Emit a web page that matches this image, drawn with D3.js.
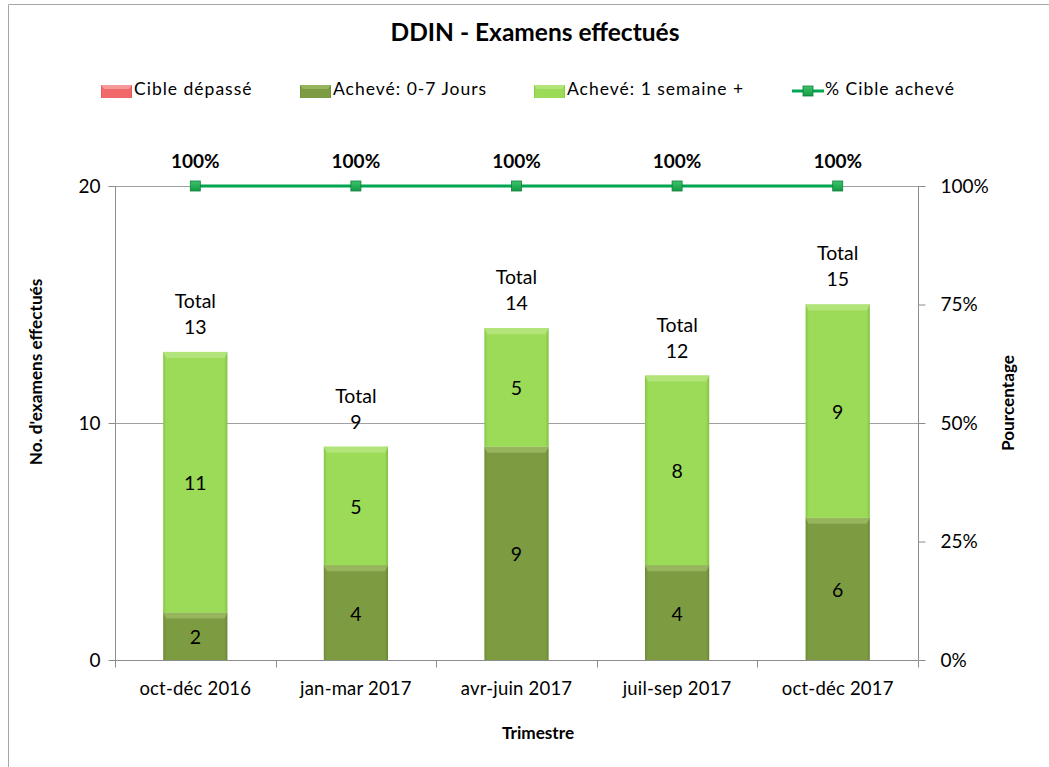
<!DOCTYPE html>
<html>
<head>
<meta charset="utf-8">
<script src="https://cdn.jsdelivr.net/npm/d3@7"></script>
<style>
  html, body { margin: 0; padding: 0; background: #fff; }
  svg { display: block; }
  text { font-family: Lato, "Noto Sans", sans-serif; fill: #000; }
</style>
</head>
<body>
<svg id="chart" width="1049" height="767"></svg>
<script>
// ---- data ----
const categories = ["oct-déc 2016", "jan-mar 2017", "avr-juin 2017", "juil-sep 2017", "oct-déc 2017"];
const cibleDepasse = [0, 0, 0, 0, 0];
const acheve07 = [2, 4, 9, 4, 6];
const acheve1sem = [11, 5, 5, 8, 9];
const pctCible = [1, 1, 1, 1, 1];
const leftTicks = [0, 10, 20];
const rightTicks = [0, 0.25, 0.5, 0.75, 1];
const legendLabels = ["Cible dépassé", "Achevé: 0-7 Jours", "Achevé: 1 semaine +", "% Cible achevé"];
const titleText = "DDIN - Examens effectués";

// ---- layout ----
const W = 1049, H = 767;
const plot = { left: 115, right: 918, top: 186, bottom: 660 };
const svg = d3.select("#chart");

const defs = svg.append("defs");
function hGrad(id, stops) {
  const g = defs.append("linearGradient").attr("id", id).attr("x1", 0).attr("x2", 1).attr("y1", 0).attr("y2", 0);
  stops.forEach(s => g.append("stop").attr("offset", s[0]).attr("stop-color", s[1]));
}
hGrad("gLight", [[0, "#88c646"], [0.05, "#9bdb57"], [0.95, "#9bdb57"], [1, "#84bf44"]]);
hGrad("gDark", [[0, "#6f8c37"], [0.05, "#7d9c42"], [0.95, "#7d9c42"], [1, "#6a8734"]]);
hGrad("gRed", [[0, "#e05a5c"], [0.05, "#f0686a"], [0.95, "#f0686a"], [1, "#d85456"]]);
const mg = defs.append("linearGradient").attr("id", "gMark").attr("x1", 0).attr("x2", 0).attr("y1", 0).attr("y2", 1);
mg.append("stop").attr("offset", 0).attr("stop-color", "#3cc46a");
mg.append("stop").attr("offset", 1).attr("stop-color", "#139a45");

// outer border (chart area)
svg.append("path").attr("d", `M8.5,${H} V4.5 H${W}`).attr("fill", "none").attr("stroke", "#a6a6a6").attr("stroke-width", 1);

// scales
const x = d3.scaleBand().domain(categories).range([plot.left, plot.right]).paddingInner(0.6).paddingOuter(0.3);
const y = d3.scaleLinear().domain([0, 20]).range([plot.bottom, plot.top]);
const y2 = d3.scaleLinear().domain([0, 1]).range([plot.bottom, plot.top]);

// gridlines
svg.append("g").selectAll("line").data(leftTicks.filter(d => d > 0)).join("line")
  .attr("x1", plot.left).attr("x2", plot.right)
  .attr("y1", d => Math.round(y(d)) + 0.5).attr("y2", d => Math.round(y(d)) + 0.5)
  .attr("stroke", "#a0a0a0").attr("stroke-width", 1);

// left axis
const gL = svg.append("g").attr("transform", `translate(${plot.left + 0.5},0)`)
  .call(d3.axisLeft(y).tickValues(leftTicks).tickSize(7).tickPadding(8).tickFormat(d3.format("d")));
// right axis
const gR = svg.append("g").attr("transform", `translate(${plot.right + 0.5},0)`)
  .call(d3.axisRight(y2).tickValues(rightTicks).tickSize(7).tickPadding(15).tickFormat(d3.format(".0%")));
// bottom axis
const xEdges = d3.scaleLinear().domain([0, categories.length]).range([plot.left, plot.right]);
const gB = svg.append("g").attr("transform", `translate(0,${plot.bottom + 0.5})`)
  .call(d3.axisBottom(x).tickSize(0).tickPadding(21));
gB.selectAll(".tick line").remove();
gB.append("g").selectAll("line").data(d3.range(categories.length + 1)).join("line")
  .attr("x1", d => Math.round(xEdges(d)) + 0.5).attr("x2", d => Math.round(xEdges(d)) + 0.5)
  .attr("y1", 0).attr("y2", 7).attr("stroke", "#8c8c8c");

[gL, gR, gB].forEach(g => {
  g.select(".domain").attr("stroke", "#8c8c8c");
  g.selectAll(".tick line").attr("stroke", "#8c8c8c");
  g.selectAll("text").attr("font-size", 19).attr("font-family", "Lato, sans-serif").attr("fill", "#000");
});
gB.selectAll("text").attr("font-size", 18.5).attr("letter-spacing", 0.2);
gL.select(".domain").attr("d", `M0,${plot.top}V${plot.bottom}`);
gR.select(".domain").attr("d", `M0,${plot.top}V${plot.bottom}`);
gB.select(".domain").attr("d", `M${plot.left},0H${plot.right}`);

// stacked bars
const stackData = categories.map((c, i) => ({ cat: c, cible: cibleDepasse[i], a07: acheve07[i], a1s: acheve1sem[i] }));
const stack = d3.stack().keys(["cible", "a07", "a1s"])(stackData);
const fills = { cible: "url(#gRed)", a07: "url(#gDark)", a1s: "url(#gLight)" };
const highlights = { cible: "#f59a9b", a07: "#96b55c", a1s: "#b2e47a" };
const bars = svg.append("g");
stack.forEach(layer => {
  const key = layer.key;
  layer.forEach(d => {
    const v = d[1] - d[0];
    if (v <= 0) return;
    const x0 = x(d.data.cat), bw = x.bandwidth();
    const yt = y(d[1]), yb = y(d[0]);
    const g = bars.append("g");
    g.append("rect").attr("x", x0).attr("y", yt).attr("width", bw).attr("height", yb - yt).attr("fill", fills[key]);
    g.append("path")
      .attr("d", `M${x0},${yt} H${x0 + bw} L${x0 + bw - 3},${yt + 6} H${x0 + 3} Z`)
      .attr("fill", highlights[key]);
    g.append("text").attr("x", x0 + bw / 2).attr("y", (yt + yb) / 2 + 3)
      .attr("text-anchor", "middle").attr("dominant-baseline", "middle")
      .attr("font-size", 19.5).text(v);
  });
});

// totals
const totals = categories.map((c, i) => cibleDepasse[i] + acheve07[i] + acheve1sem[i]);
const tg = svg.append("g");
categories.forEach((c, i) => {
  const cx = x(c) + x.bandwidth() / 2, top = y(totals[i]);
  tg.append("text").attr("x", cx).attr("y", top - 49).attr("text-anchor", "middle").attr("dominant-baseline", "middle").attr("font-size", 19.5).text("Total");
  tg.append("text").attr("x", cx).attr("y", top - 23).attr("text-anchor", "middle").attr("dominant-baseline", "middle").attr("font-size", 19.5).text(totals[i]);
});

// line series
const line = d3.line().x((d, i) => x(categories[i]) + x.bandwidth() / 2).y(d => y2(d));
svg.append("path").datum(pctCible).attr("d", line).attr("fill", "none").attr("stroke", "#00a650").attr("stroke-width", 3);
const mk = svg.append("g");
pctCible.forEach((v, i) => {
  const cx = x(categories[i]) + x.bandwidth() / 2, cy = y2(v);
  mk.append("rect").attr("x", cx - 5).attr("y", cy - 5).attr("width", 10).attr("height", 10)
    .attr("fill", "url(#gMark)").attr("stroke", "#0f7f3a").attr("stroke-width", 0.8);
  mk.append("text").attr("x", cx).attr("y", cy - 23).attr("text-anchor", "middle").attr("dominant-baseline", "middle")
    .attr("font-size", 19).attr("font-weight", "bold").text(d3.format(".0%")(v));
});

// title
svg.append("text").attr("x", 535).attr("y", 35).attr("text-anchor", "middle").attr("dominant-baseline", "middle")
  .attr("font-size", 24.5).attr("font-weight", "bold").text(titleText);

// legend
const legendX = [101, 300, 534, 792];
const lg = svg.append("g");
legendLabels.forEach((lab, i) => {
  const lx = legendX[i], ly = 91;
  if (i < 3) {
    const f = [fills.cible, fills.a07, fills.a1s][i];
    const h = [highlights.cible, highlights.a07, highlights.a1s][i];
    lg.append("rect").attr("x", lx).attr("y", ly - 6).attr("width", 31).attr("height", 13).attr("fill", f);
    lg.append("path").attr("d", `M${lx},${ly - 6} H${lx + 31} L${lx + 28},${ly - 2} H${lx + 3} Z`).attr("fill", h);
  } else {
    lg.append("line").attr("x1", lx).attr("x2", lx + 32).attr("y1", ly).attr("y2", ly).attr("stroke", "#00a650").attr("stroke-width", 3);
    lg.append("rect").attr("x", lx + 11).attr("y", ly - 5).attr("width", 10).attr("height", 10)
      .attr("fill", "url(#gMark)").attr("stroke", "#0f7f3a").attr("stroke-width", 0.8);
  }
  lg.append("text").attr("x", lx + 33).attr("y", ly).attr("dominant-baseline", "middle")
    .attr("font-size", 17.5).attr("letter-spacing", 1).text(lab);
});

// axis titles
svg.append("text").attr("transform", "translate(38,372) rotate(-90)").attr("text-anchor", "middle").attr("dominant-baseline", "middle")
  .attr("font-size", 17.2).attr("font-weight", "bold").text("No. d'examens effectués");
svg.append("text").attr("transform", "translate(1010,403) rotate(-90)").attr("text-anchor", "middle").attr("dominant-baseline", "middle")
  .attr("font-size", 17.2).attr("font-weight", "bold").text("Pourcentage");
svg.append("text").attr("x", 538).attr("y", 735).attr("text-anchor", "middle").attr("dominant-baseline", "middle")
  .attr("font-size", 17.2).attr("font-weight", "bold").text("Trimestre");
</script>
</body>
</html>
